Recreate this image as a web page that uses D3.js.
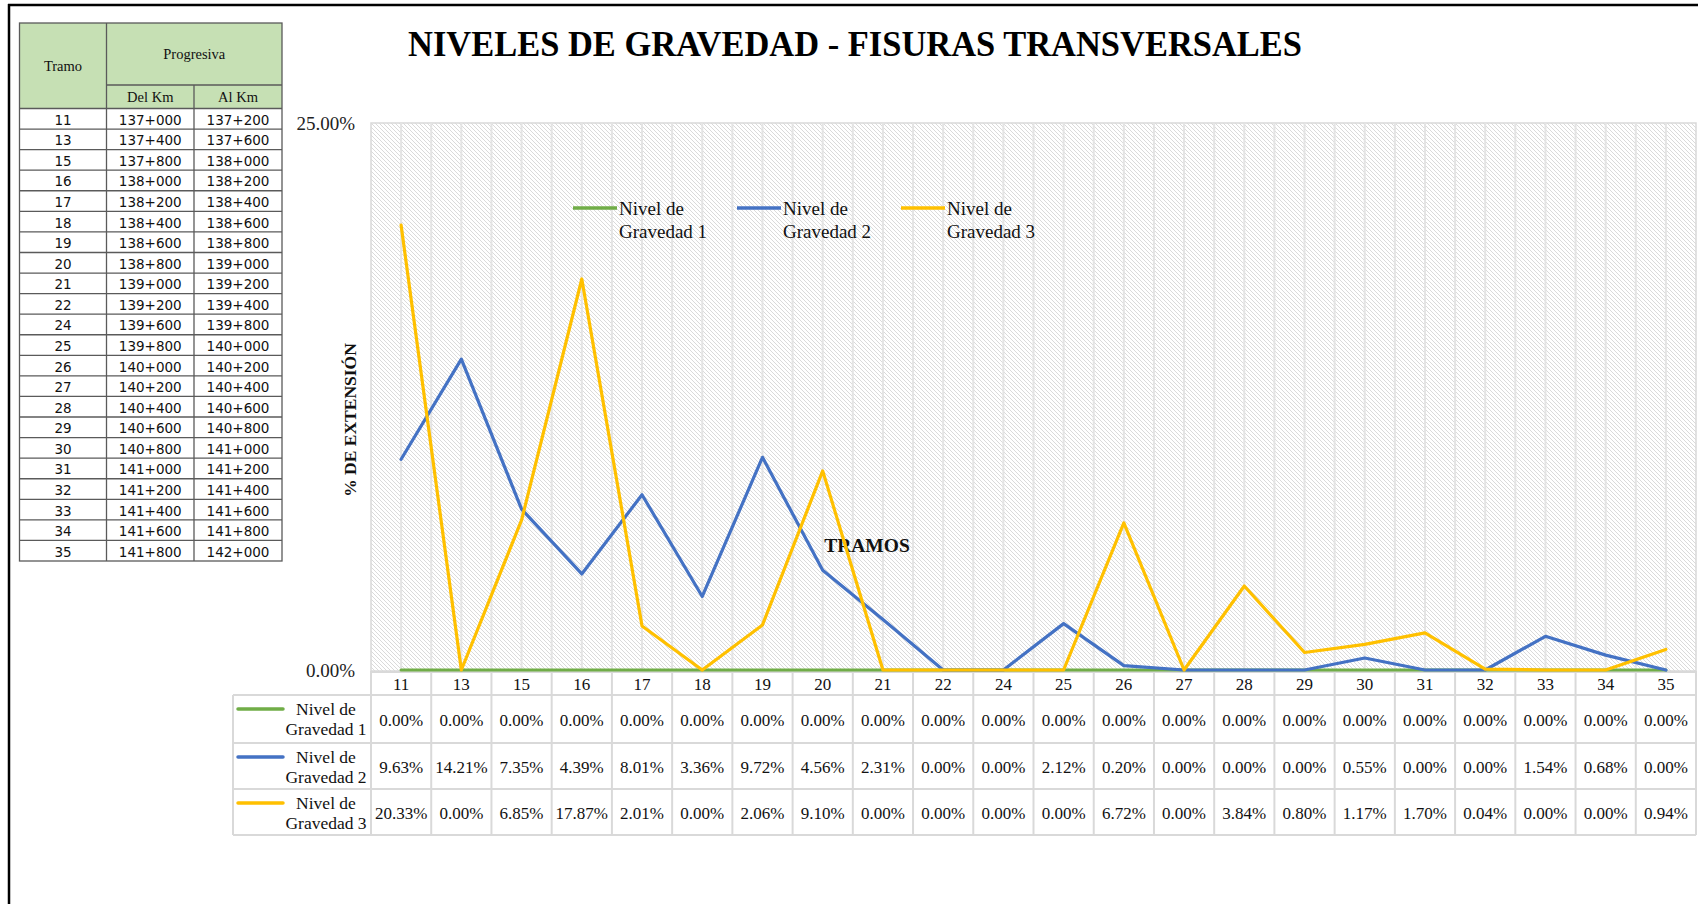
<!DOCTYPE html>
<html>
<head>
<meta charset="utf-8">
<script src="https://cdn.jsdelivr.net/npm/d3@7"></script>
<style>
  body { margin: 0; background: #fff; }
  svg { display: block; }
  .serif { font-family: "Liberation Serif", "Times New Roman", serif; }
</style>
</head>
<body>
<script>
// tramos y progresivas (tabla izquierda)
var tramos = ["11","13","15","16","17","18","19","20","21","22","24","25","26","27","28","29","30","31","32","33","34","35"];
var delKm = ["137+000","137+400","137+800","138+000","138+200","138+400","138+600","138+800","139+000","139+200","139+600",
             "139+800","140+000","140+200","140+400","140+600","140+800","141+000","141+200","141+400","141+600","141+800"];
var alKm  = ["137+200","137+600","138+000","138+200","138+400","138+600","138+800","139+000","139+200","139+400","139+800",
             "140+000","140+200","140+400","140+600","140+800","141+000","141+200","141+400","141+600","141+800","142+000"];

// % de extension por nivel de gravedad
var nivel1 = [0,0,0,0,0,0,0,0,0,0,0,0,0,0,0,0,0,0,0,0,0,0];
var nivel2 = [9.63,14.21,7.35,4.39,8.01,3.36,9.72,4.56,2.31,0,0,2.12,0.20,0,0,0,0.55,0,0,1.54,0.68,0];
var nivel3 = [20.33,0,6.85,17.87,2.01,0,2.06,9.10,0,0,0,0,6.72,0,3.84,0.80,1.17,1.70,0.04,0,0,0.94];

var seriesNames = ["Nivel de Gravedad 1","Nivel de Gravedad 2","Nivel de Gravedad 3"];
var seriesColors = ["#70ad47","#4472c4","#ffc000"];
var yTicks = [0, 25];

var W = 1698, H = 904;
var svg = d3.select("body").append("svg").attr("width", W).attr("height", H);

// pattern rayado del fondo
var defs = svg.append("defs");
var pat = defs.append("pattern").attr("id","hatch").attr("patternUnits","userSpaceOnUse")
  .attr("width",4).attr("height",4);
pat.append("rect").attr("width",4).attr("height",4).attr("fill","#fff");
pat.append("path").attr("d","M-1,-1L5,5M-1,3L1,5M3,-1L5,1")
  .attr("stroke","#dadada").attr("stroke-width",1);

// marco
svg.append("line").attr("x1",8).attr("x2",W).attr("y1",5).attr("y2",5).attr("stroke","#000").attr("stroke-width",2.5);
svg.append("line").attr("x1",9).attr("x2",9).attr("y1",4).attr("y2",H).attr("stroke","#000").attr("stroke-width",2.5);

/////////////// tabla izquierda ///////////////
var tL = 19.5, tR = 282, c1 = 106.5, c2 = 194, hTop = 23, hMid = 85, hBot = 108.5, tBot = 561;
var rowY = d3.scaleBand().domain(tramos).range([hBot, tBot]);
var tbl = svg.append("g");
var bcol = "#5a5a5a";

tbl.append("rect").attr("x",tL).attr("y",hTop).attr("width",tR-tL).attr("height",hBot-hTop).attr("fill","#c6e0b4");
tbl.append("rect").attr("x",tL).attr("y",hTop).attr("width",tR-tL).attr("height",tBot-hTop)
  .attr("fill","none").attr("stroke",bcol).attr("stroke-width",1.3);
tbl.append("line").attr("x1",c1).attr("x2",c1).attr("y1",hTop).attr("y2",tBot).attr("stroke",bcol).attr("stroke-width",1.3);
tbl.append("line").attr("x1",c2).attr("x2",c2).attr("y1",hMid).attr("y2",tBot).attr("stroke",bcol).attr("stroke-width",1.3);
tbl.append("line").attr("x1",c1).attr("x2",tR).attr("y1",hMid).attr("y2",hMid).attr("stroke",bcol).attr("stroke-width",1.3);

tbl.selectAll(".rowline").data(tramos).enter().append("line")
  .attr("x1",tL).attr("x2",tR)
  .attr("y1",function(d){ return rowY(d); }).attr("y2",function(d){ return rowY(d); })
  .attr("stroke",bcol).attr("stroke-width",1.3);

var hdr = [["Tramo",(tL+c1)/2,(hTop+hBot)/2],["Progresiva",(c1+tR)/2,(hTop+hMid)/2],
           ["Del Km",(c1+c2)/2,(hMid+hBot)/2],["Al Km",(c2+tR)/2,(hMid+hBot)/2]];
tbl.selectAll(".hdr").data(hdr).enter().append("text")
  .attr("class","serif").attr("x",function(d){return d[1];}).attr("y",function(d){return d[2];})
  .attr("text-anchor","middle").attr("dominant-baseline","central")
  .style("font-size","14.5px").attr("fill","#111").text(function(d){return d[0];});

var cols = [[tramos,(tL+c1)/2],[delKm,(c1+c2)/2],[alKm,(c2+tR)/2]];
cols.forEach(function(c){
  tbl.selectAll(null).data(c[0]).enter().append("text")
    .attr("x",c[1])
    .attr("y",function(d,i){ return rowY(tramos[i]) + rowY.bandwidth()/2 + 1; })
    .attr("text-anchor","middle").attr("dominant-baseline","central")
    .style("font-family","'DejaVu Sans', Tahoma, sans-serif").style("font-size","13.5px").attr("fill","#111")
    .text(function(d){ return d; });
});

/////////////// grafico ///////////////
var pL = 371, pR = 1696, pT = 123, pB = 671;
var x = d3.scaleBand().domain(tramos).range([pL, pR]);
var bw = x.bandwidth();
var y = d3.scaleLinear().domain([0, 25]).range([pB - 1, pT]);

svg.append("rect").attr("x",pL).attr("y",pT).attr("width",pR-pL).attr("height",pB-pT)
  .attr("fill","url(#hatch)").attr("stroke","#d9d9d9").attr("stroke-width",1.5);

// lineas verticales (cada media categoria)
var grid = [];
tramos.forEach(function(t){ grid.push(x(t)); grid.push(x(t)+bw/2); });
svg.selectAll(".grid").data(grid.slice(1)).enter().append("line")
  .attr("x1",function(d){return d;}).attr("x2",function(d){return d;})
  .attr("y1",pT).attr("y2",pB).attr("stroke","#e4e4e4").attr("stroke-width",2);

// eje y
svg.selectAll(".ytick").data(yTicks).enter().append("text")
  .attr("class","serif").attr("x",355).attr("y",function(d){ return y(d); })
  .attr("text-anchor","end").attr("dominant-baseline","central")
  .style("font-size","19px").attr("fill","#222")
  .text(function(d){ return d.toFixed(2) + "%"; });

svg.append("text").attr("class","serif")
  .attr("transform","translate(350,420) rotate(-90)")
  .attr("text-anchor","middle").attr("dominant-baseline","central")
  .style("font-size","17.5px").style("font-weight","bold").attr("fill","#111")
  .text("% DE EXTENSIÓN");

svg.append("text").attr("class","serif").attr("x",867).attr("y",545)
  .attr("text-anchor","middle").attr("dominant-baseline","central")
  .style("font-size","19.5px").style("font-weight","bold").attr("fill","#111")
  .text("TRAMOS");

/////////////// tabla de datos ///////////////
var tcol = "#d9d9d9";
var dL = 233, rowTop = [671, 695, 743, 789, 835];
var dt = svg.append("g");

// fila de categorias
dt.selectAll(".cat").data(tramos).enter().append("text").attr("class","serif")
  .attr("x",function(d){ return x(d) + bw/2; }).attr("y",(rowTop[0]+rowTop[1])/2 + 1)
  .attr("text-anchor","middle").attr("dominant-baseline","central")
  .style("font-size","17px").attr("fill","#111").text(function(d){ return d; });

// lineas horizontales
rowTop.forEach(function(ry, i){
  dt.append("line").attr("x1", i === 0 ? pL : dL).attr("x2", pR).attr("y1",ry + (i === 0 ? 1 : 0)).attr("y2",ry + (i === 0 ? 1 : 0))
    .attr("stroke",tcol).attr("stroke-width",2);
});
// lineas verticales
var vx = tramos.map(function(t){ return x(t); }).concat([pR]);
dt.selectAll(".vl").data(vx).enter().append("line")
  .attr("x1",function(d){return d;}).attr("x2",function(d){return d;})
  .attr("y1",rowTop[0]).attr("y2",rowTop[4]).attr("stroke",tcol).attr("stroke-width",2);
dt.append("line").attr("x1",dL).attr("x2",dL).attr("y1",rowTop[1]).attr("y2",rowTop[4])
  .attr("stroke",tcol).attr("stroke-width",2);

var series = [nivel1, nivel2, nivel3];

series.forEach(function(s, k){
  var top = rowTop[k+1], bot = rowTop[k+2], mid = (top+bot)/2;
  dt.append("line").attr("x1",238).attr("x2",283).attr("y1",top+14).attr("y2",top+14)
    .attr("stroke",seriesColors[k]).attr("stroke-width",3.5).attr("stroke-linecap","round");
  var parts = [seriesNames[k].substring(0,8), seriesNames[k].substring(9)];
  dt.selectAll(null).data(parts).enter().append("text").attr("class","serif")
    .attr("x",326).attr("y",function(d,i){ return top + 14 + i*20; })
    .attr("text-anchor","middle").attr("dominant-baseline","central")
    .style("font-size","17.5px").attr("fill","#111").text(function(d){ return d; });

  dt.selectAll(null).data(s).enter().append("text").attr("class","serif")
    .attr("x",function(d,i){ return x(tramos[i]) + bw/2; }).attr("y",mid + 1)
    .attr("text-anchor","middle").attr("dominant-baseline","central")
    .style("font-size","17px").attr("fill","#111")
    .text(function(d){ return d.toFixed(2) + "%"; });
});

// series (encima de la tabla)
var line = d3.line()
  .x(function(d,i){ return x(tramos[i]) + bw/2; })
  .y(function(d){ return y(d); });

series.forEach(function(s, k){
  svg.append("path").datum(s).attr("d", line)
    .attr("fill","none").attr("stroke",seriesColors[k]).attr("stroke-width",3.2)
    .attr("stroke-linejoin","round").attr("stroke-linecap","round");
});

// leyenda
var legX = [573, 737, 901];
seriesNames.forEach(function(n, k){
  var g = svg.append("g").attr("transform","translate(" + legX[k] + ",208)");
  g.append("line").attr("x1",0).attr("x2",44).attr("stroke",seriesColors[k]).attr("stroke-width",3.5);
  var parts = [n.substring(0,8), n.substring(9)];
  g.selectAll("text").data(parts).enter().append("text").attr("class","serif")
    .attr("x",46).attr("y",function(d,i){ return i*23; })
    .attr("dominant-baseline","central").style("font-size","19px").attr("fill","#111")
    .text(function(d){ return d; });
});

// titulo
svg.append("text").attr("class","serif").attr("x",855).attr("y",56)
  .attr("text-anchor","middle").attr("textLength",894).attr("lengthAdjust","spacingAndGlyphs")
  .style("font-size","36px").style("font-weight","bold").attr("fill","#000")
  .text("NIVELES DE GRAVEDAD - FISURAS TRANSVERSALES");
</script>
</body>
</html>
